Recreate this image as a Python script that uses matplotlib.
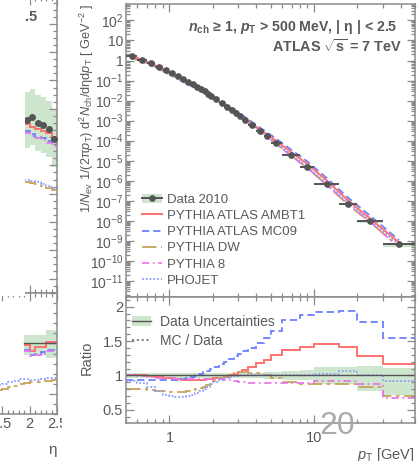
import numpy as np
import matplotlib
matplotlib.use('Agg')
import matplotlib.pyplot as plt
from matplotlib.ticker import LogLocator, MultipleLocator, AutoMinorLocator, NullFormatter, FuncFormatter
from matplotlib.patches import Rectangle, Patch
from matplotlib.lines import Line2D

plt.rcParams['font.family'] = ['Liberation Sans', 'DejaVu Sans']
plt.rcParams['mathtext.fontset'] = 'custom'
plt.rcParams['mathtext.rm'] = 'Liberation Sans'
plt.rcParams['mathtext.it'] = 'Liberation Sans:italic'
plt.rcParams['mathtext.bf'] = 'Liberation Sans:bold'
plt.rcParams['mathtext.bfit'] = 'Liberation Sans:italic:bold'

# ---- main plot data: pT spectrum, ATLAS 7 TeV ----
pt_edges = [0.5, 0.6, 0.7, 0.8, 0.9, 1.0, 1.1, 1.2, 1.3, 1.4, 1.5, 1.6, 1.7, 1.8, 1.9, 2.0,
            2.2, 2.4, 2.6, 2.8, 3.0, 3.2, 3.5, 4.0, 4.5, 5.0, 6.0, 8.0, 10, 15, 20, 30, 50]
data_2010 = [1.66, 1.07, 0.71, 0.48, 0.33, 0.234, 0.166, 0.120, 0.089, 0.066, 0.050, 0.038,
             0.029, 0.0224, 0.0174, 0.0120, 7.6e-3, 5.0e-3, 3.4e-3, 2.35e-3, 1.66e-3, 1.10e-3,
             6.0e-4, 3.0e-4, 1.66e-4, 7.6e-5, 2.0e-5, 5.0e-6, 7.1e-7, 7.1e-8, 1.0e-8, 7.1e-10]
unc_up = [0.03] * 20 + [0.035, 0.035, 0.04, 0.04, 0.045, 0.05, 0.06, 0.08, 0.12, 0.12, 0.14, 0.11]
unc_down = [0.03] * 20 + [0.035, 0.035, 0.04, 0.04, 0.045, 0.05, 0.06, 0.06, 0.12, 0.12, 0.22, 0.29]

# MC / Data ratios
r_ambt1 = [1.00, 1.00, 0.99, 0.98, 0.97, 0.96, 0.95, 0.94, 0.94, 0.94, 0.94, 0.94, 0.94, 0.95, 0.95, 0.96,
           0.97, 0.98, 1.00, 1.02, 1.05, 1.08, 1.13, 1.18, 1.23, 1.30, 1.37, 1.41, 1.46, 1.42, 1.28, 1.17]
r_mc09 = [0.93, 0.93, 0.93, 0.93, 0.93, 0.93, 0.94, 0.95, 0.96, 0.98, 1.00, 1.02, 1.05, 1.07, 1.09, 1.12,
          1.16, 1.20, 1.24, 1.28, 1.31, 1.35, 1.40, 1.47, 1.55, 1.65, 1.80, 1.88, 1.92, 1.94, 1.78, 1.55]
r_dw = [0.81, 0.80, 0.79, 0.78, 0.77, 0.76, 0.76, 0.76, 0.77, 0.79, 0.80, 0.82, 0.84, 0.86, 0.88, 0.92,
        0.96, 0.99, 1.02, 1.04, 1.05, 1.05, 1.04, 1.03, 1.01, 0.97, 0.91, 0.88, 0.87, 0.87, 0.83, 0.70]
r_py8 = [1.00, 0.99, 0.98, 0.97, 0.96, 0.96, 0.95, 0.95, 0.95, 0.95, 0.95, 0.95, 0.95, 0.95, 0.95, 0.95,
         0.95, 0.94, 0.93, 0.92, 0.91, 0.90, 0.89, 0.89, 0.89, 0.89, 0.89, 0.89, 0.92, 0.92, 0.87, 0.68]
r_phojet = [0.92, 0.89, 0.83, 0.77, 0.72, 0.70, 0.69, 0.69, 0.70, 0.72, 0.75, 0.78, 0.81, 0.84, 0.87, 0.90,
            0.93, 0.96, 0.98, 0.99, 1.00, 1.00, 1.00, 1.00, 1.00, 1.01, 1.01, 1.01, 1.02, 1.07, 1.01, 0.92]

# ---- partly hidden neighbour plot (eta distribution) ----
eta_edges = [1.9, 2.0, 2.1, 2.2, 2.3, 2.4, 2.5]
eta_data = [2.061, 2.071, 2.050, 2.043, 2.029, 1.994]
eta_band = [0.1, 0.1, 0.1, 0.1, 0.1, 0.1]
eta_ambt1 = [2.045, 2.035, 2.028, 2.020, 2.015, 2.000]
eta_mc09 = [2.020, 2.010, 2.000, 1.995, 1.985, 1.975]
eta_py8 = [2.015, 2.005, 1.995, 1.990, 1.980, 1.970]
eta_dw = [1.843, 1.839, 1.834, 1.828, 1.821, 1.813]
eta_phojet = [1.850, 1.846, 1.841, 1.834, 1.826, 1.818]
eta_up = [0.08, 0.08, 0.08, 0.08, 0.13, 0.13]
eta_down = [0.115, 0.115, 0.115, 0.115, 0.145, 0.145]
eta_r_ambt1 = [0.98, 0.92, 0.96, 0.96, 1.01, 1.01]
eta_r_mc09 = [0.93, 0.89, 0.90, 0.91, 0.93, 0.93]
eta_r_py8 = [0.92, 0.88, 0.89, 0.90, 0.92, 0.92]
eta_edges_wide = [1.3, 1.4, 1.5, 1.6, 1.7, 1.8, 1.9, 2.0, 2.1, 2.2, 2.3, 2.4, 2.5]
eta_r_dw = [0.53, 0.54, 0.55, 0.57, 0.58, 0.60, 0.61, 0.62, 0.62, 0.63, 0.63, 0.64]
eta_r_phojet = [0.58, 0.59, 0.60, 0.62, 0.63, 0.65, 0.65, 0.64, 0.64, 0.65, 0.66, 0.66]

AXC = '#8a8a8a'
TXT = '#595959'
DATAC = '#555555'
GREEN = '#cde6cd'
RED = '#ff7070'
BLUE = '#6b7fff'
GOLD = '#c9a35a'
MAG = '#e878e8'
PHO = '#8d9dff'
ls_mc09 = (0, (4, 2.2))
ls_dw = (0, (8, 2.5, 2, 2.5))
ls_py8 = (0, (4, 2, 1, 2))
ls_pho = (0, (1, 1.1))

W, H = 417, 461
fig = plt.figure(figsize=(W / 100, H / 100), dpi=100)


def box(x0, y0, x1, y1):
    # pixel box (top-left origin) -> figure fraction rect
    return [x0 / W, 1 - y1 / H, (x1 - x0) / W, (y1 - y0) / H]


def style(ax):
    for s in ax.spines.values():
        s.set_color(AXC)
        s.set_linewidth(1.1)
    ax.tick_params(which='both', direction='in', top=True, right=True, color=AXC,
                   labelcolor=TXT, labelsize=9.5, width=0.9)
    ax.tick_params(which='major', length=6)
    ax.tick_params(which='minor', length=3)


# neighbour plot (mostly hidden)
axL = fig.add_axes(box(-218, -3, 57, 293), zorder=0)
axLr = fig.add_axes(box(-218, 293, 57, 414), zorder=0)
style(axL)
style(axLr)
e = np.array(eta_edges)
ec = 0.5 * (e[:-1] + e[1:])
d = np.array(eta_data)
axL.stairs(d + np.array(eta_band), e, baseline=d - np.array(eta_band), fill=True, color=GREEN, lw=0)
axL.stairs(eta_ambt1, e, baseline=None, color=RED, lw=1.4)
axL.stairs(eta_mc09, e, baseline=None, color=BLUE, lw=1.3, ls=ls_mc09)
axL.stairs(eta_py8, e, baseline=None, color=MAG, lw=1.3, ls=ls_py8)
axL.stairs(eta_dw, e, baseline=None, color=GOLD, lw=1.3, ls=ls_dw)
axL.stairs(eta_phojet, e, baseline=None, color=PHO, lw=1.3, ls=ls_pho)
axL.plot(ec, d, 'o', color=DATAC, ms=4, zorder=5)
axL.set_xlim(-2.5, 2.5)
axL.set_ylim(1.449, 2.495)
axL.yaxis.set_major_locator(MultipleLocator(0.1))
axL.yaxis.set_minor_locator(AutoMinorLocator(4))
axL.xaxis.set_major_locator(MultipleLocator(0.5))
axL.xaxis.set_minor_locator(MultipleLocator(0.1))
axL.tick_params(labelleft=False, labelbottom=False)

axLr.stairs(1 + np.array(eta_up), e, baseline=1 - np.array(eta_down), fill=True, color=GREEN, lw=0)
axLr.plot([e[0], e[-1]], [1, 1], color=DATAC, lw=1.0)
axLr.stairs(eta_r_ambt1, e, baseline=None, color=RED, lw=1.4)
axLr.stairs(eta_r_mc09, e, baseline=None, color=BLUE, lw=1.3, ls=ls_mc09)
axLr.stairs(eta_r_py8, e, baseline=None, color=MAG, lw=1.3, ls=ls_py8)
axLr.stairs(eta_r_dw, eta_edges_wide, baseline=None, color=GOLD, lw=1.3, ls=ls_dw)
axLr.stairs(eta_r_phojet, eta_edges_wide, baseline=None, color=PHO, lw=1.3, ls=ls_pho)
axLr.set_xlim(-2.5, 2.5)
axLr.set_ylim(0.3, 1.5)
axLr.yaxis.set_major_locator(MultipleLocator(0.5))
axLr.yaxis.set_minor_locator(MultipleLocator(0.1))
axLr.xaxis.set_major_locator(MultipleLocator(0.5))
axLr.xaxis.set_minor_locator(MultipleLocator(0.1))
axLr.xaxis.set_major_formatter(FuncFormatter(lambda v, p: '%g' % v))
axLr.tick_params(axis='x', labelsize=10.5, pad=2)
axLr.tick_params(labelleft=False)
axLr.set_xlabel('η', fontsize=11, color=TXT, loc='right')
axLr.xaxis.set_label_coords(1.0, -0.24)

fig.text(37.5 / W, 1 - 17 / H, '|η| < 2.5', ha='right', va='center', fontsize=10.5,
         fontweight='bold', color=TXT, zorder=0.5)

# white areas that cover the neighbour plot
fig.add_artist(Rectangle((0, 1 - 296 / H), 25 / W, 296 / H, transform=fig.transFigure,
                         facecolor='white', edgecolor='none', zorder=1))
fig.add_artist(Rectangle((62 / W, 0), 1 - 62 / W, 1, transform=fig.transFigure,
                         facecolor='white', edgecolor='none', zorder=1))

# ---- main plot ----
ax = fig.add_axes(box(126, 4, 415, 297), zorder=2)
axr = fig.add_axes(box(126, 297, 415, 423), zorder=2, sharex=ax)
style(ax)
style(axr)

edges = np.array(pt_edges)
cen = np.sqrt(edges[:-1] * edges[1:])
data = np.array(data_2010)
up = np.array(unc_up)
dn = np.array(unc_down)

ax.stairs(data * (1 + up), edges, baseline=data * (1 - dn), fill=True, color=GREEN, lw=0)
ax.plot(cen, data * np.array(r_mc09), color=BLUE, lw=1.3, ls=ls_mc09)
ax.plot(cen, data * np.array(r_dw), color=GOLD, lw=1.3, ls=ls_dw)
ax.plot(cen, data * np.array(r_py8), color=MAG, lw=1.3, ls=ls_py8)
ax.plot(cen, data * np.array(r_phojet), color=PHO, lw=1.3, ls=ls_pho)
ax.plot(cen, data * np.array(r_ambt1), color=RED, lw=1.4)
ax.errorbar(cen, data, xerr=[cen - edges[:-1], edges[1:] - cen], fmt='o', color=DATAC,
            ms=3.8, elinewidth=1.4, capsize=0, zorder=5)

ax.set_xscale('log')
ax.set_yscale('log')
ax.set_xlim(0.5, 50)
ax.set_ylim(10 ** -11.8, 10 ** 2.82)


def log_fmt(v, pos):
    k = int(round(np.log10(v)))
    if k == 0:
        return '1'
    if k == 1:
        return '10'
    return r'$10^{%d}$' % k


ax.yaxis.set_major_locator(LogLocator(base=10, numticks=30))
ax.yaxis.set_minor_locator(LogLocator(base=10, subs=np.arange(2, 10), numticks=30))
ax.yaxis.set_major_formatter(FuncFormatter(log_fmt))
ax.yaxis.set_minor_formatter(NullFormatter())
ax.tick_params(axis='y', pad=2, labelsize=10)
ax.tick_params(labelbottom=False)
ax.set_ylabel(r'1/$N_{\rm ev}$ 1/(2π$p_{\rm T}$) d$^{2}N_{\rm ch}$/dηd$p_{\rm T}$ [ GeV$^{-2}$ ]',
              fontsize=9.2, color=TXT, loc='top')
ax.yaxis.set_label_coords(-0.105, 1.0)

ax.text(0.941, 0.9225, r'$\mathbfit{n}_{\mathbf{ch}}$ ≥ 1, $\mathbfit{p}_{\mathbf{T}}$ > 500 MeV, | η | < 2.5',
        transform=ax.transAxes, ha='right', va='center', fontsize=10.2, fontweight='bold', color=TXT)
ax.text(0.955, 0.854, r'ATLAS $\sqrt{\mathbf{s}}$ = 7 TeV', transform=ax.transAxes, ha='right',
        va='center', fontsize=10.4, fontweight='bold', color=TXT)

h_data = (Patch(facecolor=GREEN, edgecolor='none'),
          Line2D([], [], color=DATAC, lw=1.4, marker='o', ms=3.8))
handles = [h_data,
           Line2D([], [], color=RED, lw=1.4),
           Line2D([], [], color=BLUE, lw=1.3, ls=ls_mc09),
           Line2D([], [], color=GOLD, lw=1.3, ls=ls_dw),
           Line2D([], [], color=MAG, lw=1.3, ls=ls_py8),
           Line2D([], [], color=PHO, lw=1.3, ls=ls_pho)]
labels = ['Data 2010', 'PYTHIA ATLAS AMBT1', 'PYTHIA ATLAS MC09', 'PYTHIA DW', 'PYTHIA 8', 'PHOJET']
leg = ax.legend(handles, labels, loc='lower left', bbox_to_anchor=(0.055, 0.035), frameon=False,
                fontsize=9.5, handlelength=1.5, handletextpad=0.4, labelspacing=0.3,
                borderpad=0, borderaxespad=0)
for t in leg.get_texts():
    t.set_color(TXT)

# ratio panel
axr.stairs(1 + up, edges, baseline=1 - dn, fill=True, color=GREEN, lw=0)
axr.axhline(1.0, color=DATAC, lw=1.0)
axr.stairs(r_ambt1, edges, baseline=None, color=RED, lw=1.4)
axr.stairs(r_mc09, edges, baseline=None, color=BLUE, lw=1.3, ls=ls_mc09)
axr.stairs(r_dw, edges, baseline=None, color=GOLD, lw=1.3, ls=ls_dw)
axr.stairs(r_py8, edges, baseline=None, color=MAG, lw=1.3, ls=ls_py8)
axr.stairs(r_phojet, edges, baseline=None, color=PHO, lw=1.3, ls=ls_pho)
axr.set_ylim(0.31, 2.14)
axr.yaxis.set_major_locator(MultipleLocator(0.5))
axr.yaxis.set_minor_locator(MultipleLocator(0.1))
axr.yaxis.set_major_formatter(FuncFormatter(lambda v, p: '%g' % v))
axr.xaxis.set_major_formatter(FuncFormatter(lambda v, p: '%g' % v))
axr.xaxis.set_minor_formatter(NullFormatter())
axr.tick_params(axis='y', pad=2, labelsize=10.5)
axr.tick_params(axis='x', pad=6, labelsize=10.5)
axr.set_ylabel('Ratio', fontsize=10.5, color=TXT)
axr.yaxis.set_label_coords(-0.11, 0.52)
axr.set_xlabel(r'$p_{\rm T}$ [GeV]', fontsize=10.5, color=TXT, loc='right')
axr.xaxis.set_label_coords(1.0, -0.18)

rh = [(Patch(facecolor=GREEN, edgecolor='none'), Line2D([], [], color=DATAC, lw=1.0)),
      Line2D([], [], color='#777777', lw=1.4, ls=(0, (1, 1.5)))]
rleg = axr.legend(rh, ['Data Uncertainties', 'MC / Data'], loc='upper left',
                  bbox_to_anchor=(0.02, 0.86), frameon=False, fontsize=10, handlelength=1.4,
                  handletextpad=0.6, labelspacing=0.35, borderpad=0, borderaxespad=0)
for t in rleg.get_texts():
    t.set_color(TXT)

# page number of the slide
fig.text(337 / W, 1 - 426 / H, '20', ha='center', va='center', fontsize=23, color='#aaaaaa', zorder=5)

fig.savefig('out.png', dpi=100, facecolor='white')
